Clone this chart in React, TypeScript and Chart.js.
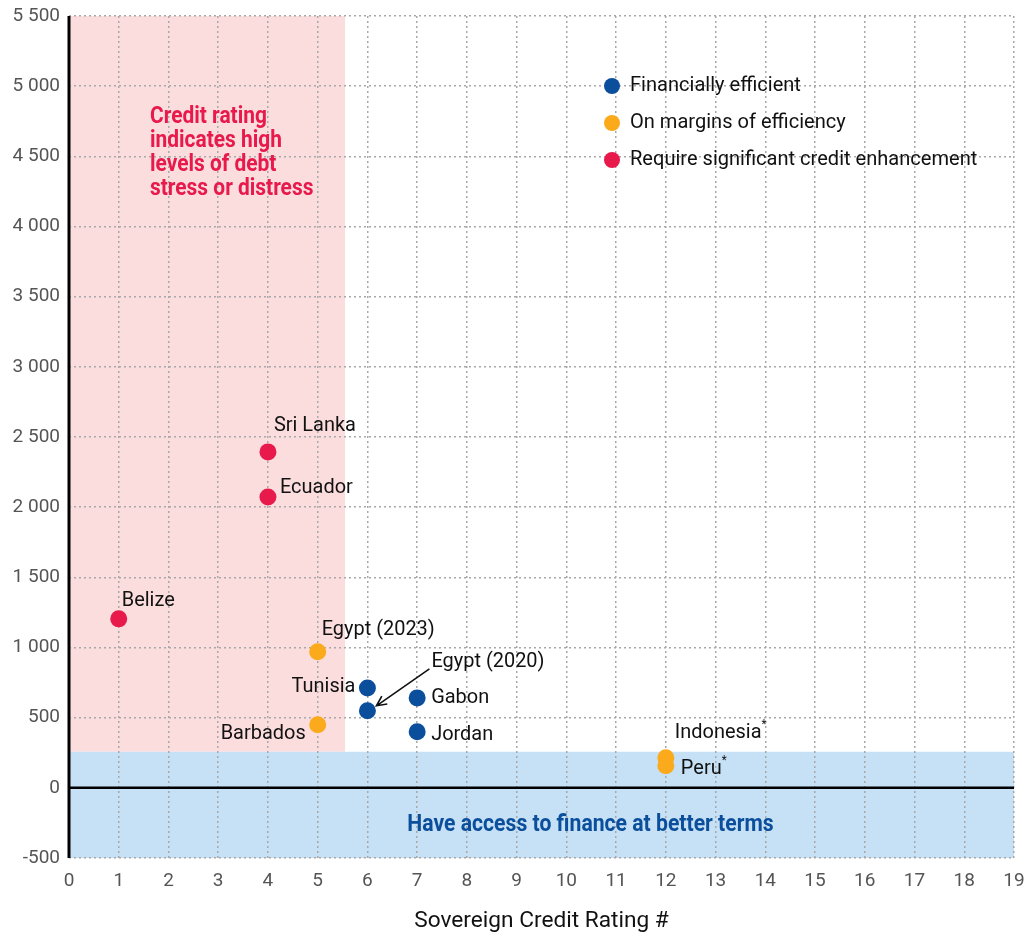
import React, { useEffect, useRef } from "react";
import { Chart, registerables } from "chart.js";

Chart.register(...registerables);

// ---------- DATA ----------
const efficientNames = ["Tunisia", "Egypt (2020)", "Gabon", "Jordan"];
const efficientRating = [6, 6, 7, 7];
const efficientValue = [712, 549, 641, 399];

const marginNames = ["Egypt (2023)", "Barbados", "Indonesia", "Peru"];
const marginRating = [5, 5, 12, 12];
const marginValue = [969, 449, 214, 158];

const enhanceNames = ["Belize", "Sri Lanka", "Ecuador"];
const enhanceRating = [1, 4, 4];
const enhanceValue = [1204, 2394, 2073];

const seriesLabels = [
  "Financially efficient",
  "On margins of efficiency",
  "Require significant credit enhancement",
];
const xTicks = [0, 19];
const yTicks = [-500, 5500, 500];

// shaded zones (data units)
const distressZoneMaxRating = 5.55;
const distressZoneMinValue = 257;
const accessZoneMaxValue = 257;

const starred = ["Indonesia", "Peru"];

// ---------- STYLE ----------
const BLUE = "#0B4F9C";
const ORANGE = "#FBAA1B";
const RED = "#E8194B";
const PINK_BG = "#FBDDDE";
const BLUE_BG = "#C6E0F5";
const FONT = "Roboto";
const W = 1033;
const H = 937;

const labelPlace: Record<string, { dx: number; dy: number; align: CanvasTextAlign; arrow?: boolean }> = {
  Belize: { dx: 3, dy: -18, align: "left" },
  "Sri Lanka": { dx: 6, dy: -26, align: "left" },
  Ecuador: { dx: 12, dy: -9, align: "left" },
  "Egypt (2023)": { dx: 4, dy: -22, align: "left" },
  Barbados: { dx: -12, dy: 9, align: "right" },
  Tunisia: { dx: -12, dy: -1, align: "right" },
  "Egypt (2020)": { dx: 64, dy: -49, align: "left", arrow: true },
  Gabon: { dx: 14, dy: 0, align: "left" },
  Jordan: { dx: 14, dy: 3, align: "left" },
  Indonesia: { dx: 9, dy: -25, align: "left" },
  Peru: { dx: 15, dy: 3, align: "left" },
};

function drawText(
  ctx: CanvasRenderingContext2D,
  text: string,
  x: number,
  y: number,
  opts: { size: number; bold?: boolean; color: string; align?: CanvasTextAlign; sx?: number }
) {
  const sx = opts.sx ?? 0.95;
  ctx.save();
  ctx.font = `${opts.bold ? "bold " : ""}${opts.size}px ${FONT}`;
  ctx.fillStyle = opts.color;
  ctx.textBaseline = "middle";
  ctx.textAlign = opts.align ?? "left";
  ctx.translate(x, y);
  ctx.scale(sx, 1);
  ctx.fillText(text, 0, 0);
  const w = ctx.measureText(text).width * sx;
  ctx.restore();
  return w;
}

const fmt = (v: number) => {
  const s = Math.abs(v).toString();
  const withSp = s.length > 3 ? s.slice(0, s.length - 3) + " " + s.slice(-3) : s;
  return (v < 0 ? "-" : "") + withSp;
};

const overlayPlugin = {
  id: "overlay",
  beforeDraw(chart: any) {
    const { ctx, chartArea, scales } = chart;
    const x = scales.x, y = scales.y;
    ctx.save();
    ctx.fillStyle = PINK_BG;
    const px1 = x.getPixelForValue(0), px2 = x.getPixelForValue(distressZoneMaxRating);
    const py1 = y.getPixelForValue(y.max), py2 = y.getPixelForValue(distressZoneMinValue);
    ctx.fillRect(px1, py1, px2 - px1, py2 - py1);
    ctx.fillStyle = BLUE_BG;
    const by1 = y.getPixelForValue(accessZoneMaxValue), by2 = y.getPixelForValue(y.min);
    ctx.fillRect(chartArea.left, by1, chartArea.right - chartArea.left, by2 - by1);
    ctx.restore();
  },
  beforeDatasetsDraw(chart: any) {
    const { ctx, chartArea, scales } = chart;
    const x = scales.x, y = scales.y;
    ctx.save();
    ctx.strokeStyle = "#000";
    ctx.lineWidth = 2.5;
    const zy = y.getPixelForValue(0);
    ctx.beginPath();
    ctx.moveTo(chartArea.left, zy);
    ctx.lineTo(chartArea.right, zy);
    ctx.stroke();
    ctx.lineWidth = 3;
    ctx.beginPath();
    ctx.moveTo(x.getPixelForValue(0), chartArea.top);
    ctx.lineTo(x.getPixelForValue(0), chartArea.bottom);
    ctx.stroke();
    ctx.restore();

    const redLines = ["Credit rating", "indicates high", "levels of debt", "stress or distress"];
    redLines.forEach((t, i) => {
      drawText(ctx, t, 150, 117 + i * 24, { size: 23, bold: true, color: RED, sx: 0.91 });
    });
    const cx = (chartArea.left + chartArea.right) / 2 + 49;
    drawText(ctx, "Have access to finance at better terms", cx, 825, {
      size: 23, bold: true, color: BLUE, align: "center", sx: 0.92,
    });
  },
  afterDatasetsDraw(chart: any) {
    const { ctx, chartArea } = chart;
    chart.data.datasets.forEach((ds: any, di: number) => {
      const meta = chart.getDatasetMeta(di);
      ds.names.forEach((name: string, i: number) => {
        const el = meta.data[i];
        const p = labelPlace[name];
        if (!el || !p) return;
        const lx = el.x + p.dx, ly = el.y + p.dy;
        const w = drawText(ctx, name, lx, ly, { size: 21, color: "#111", align: p.align });
        if (starred.includes(name)) {
          drawText(ctx, "*", lx + w, ly - 8, { size: 12, color: "#111" });
        }
        if (p.arrow) {
          const sx0 = lx - 2, sy0 = ly + 7;
          const ex = el.x + 9, ey = el.y - 5;
          ctx.save();
          ctx.strokeStyle = "#111";
          ctx.lineWidth = 1.6;
          ctx.beginPath();
          ctx.moveTo(sx0, sy0);
          ctx.lineTo(ex, ey);
          const ang = Math.atan2(ey - sy0, ex - sx0);
          const L = 11;
          ctx.moveTo(ex - L * Math.cos(ang - 0.45), ey - L * Math.sin(ang - 0.45));
          ctx.lineTo(ex, ey);
          ctx.lineTo(ex - L * Math.cos(ang + 0.45), ey - L * Math.sin(ang + 0.45));
          ctx.stroke();
          ctx.restore();
        }
      });
    });
    const colors = [BLUE, ORANGE, RED];
    seriesLabels.forEach((t, i) => {
      const ly = 86 + i * 37;
      ctx.save();
      ctx.fillStyle = colors[i];
      ctx.beginPath();
      ctx.arc(612, ly, 8, 0, Math.PI * 2);
      ctx.fill();
      ctx.restore();
      drawText(ctx, t, 630, ly, { size: 21, color: "#111", sx: 0.955 });
    });
    drawText(ctx, "Sovereign Credit Rating #", (chartArea.left + chartArea.right) / 2, 921, {
      size: 22, color: "#111", align: "center", sx: 1.03,
    });
  },
};

export default function App() {
  const ref = useRef<HTMLCanvasElement>(null);
  useEffect(() => {
    document.body.style.margin = "0";
    if (!ref.current) return;
    const mk = (names: string[], xs: number[], ys: number[], label: string, color: string) => ({
      label,
      names,
      data: names.map((_, i) => ({ x: xs[i], y: ys[i] })),
      backgroundColor: color,
      borderColor: color,
      borderWidth: 0,
      pointRadius: 8.5,
      pointHoverRadius: 8.5,
    });
    const gridCommon = {
      color: "#a8a8a8",
      lineWidth: 1.5,
      drawTicks: false,
    };
    const chart = new Chart(ref.current, {
      type: "scatter",
      data: {
        datasets: [
          mk(efficientNames, efficientRating, efficientValue, seriesLabels[0], BLUE),
          mk(marginNames, marginRating, marginValue, seriesLabels[1], ORANGE),
          mk(enhanceNames, enhanceRating, enhanceValue, seriesLabels[2], RED),
        ] as any,
      },
      options: {
        animation: false,
        responsive: false,
        devicePixelRatio: 1,
        layout: { padding: { top: 16, right: 19, left: 0, bottom: 0 } },
        plugins: { legend: { display: false }, tooltip: { enabled: false } },
        scales: {
          x: {
            type: "linear",
            min: xTicks[0],
            max: xTicks[1],
            ticks: { stepSize: 1, padding: 12, color: "#555", font: { family: FONT, size: 19 } },
            grid: gridCommon,
            border: { display: false, dash: [2, 3] },
            afterFit: (s: any) => {
              s.height = H - 858;
              s.paddingLeft = 0;
              s.paddingRight = 0;
            },
          },
          y: {
            min: yTicks[0],
            max: yTicks[1],
            ticks: {
              stepSize: yTicks[2],
              padding: 9,
              color: "#555",
              font: { family: FONT, size: 19 },
              callback: (v: any) => fmt(Number(v)),
            },
            grid: gridCommon,
            border: { display: false, dash: [2, 3] },
            afterFit: (s: any) => {
              s.width = 69;
              s.paddingTop = 0;
              s.paddingBottom = 0;
            },
          },
        },
      } as any,
      plugins: [overlayPlugin],
    });
    return () => chart.destroy();
  }, []);
  return (
    <div style={{ width: W, height: H, overflow: "hidden" }}>
      <canvas ref={ref} width={W} height={H} style={{ display: "block" }} />
    </div>
  );
}
